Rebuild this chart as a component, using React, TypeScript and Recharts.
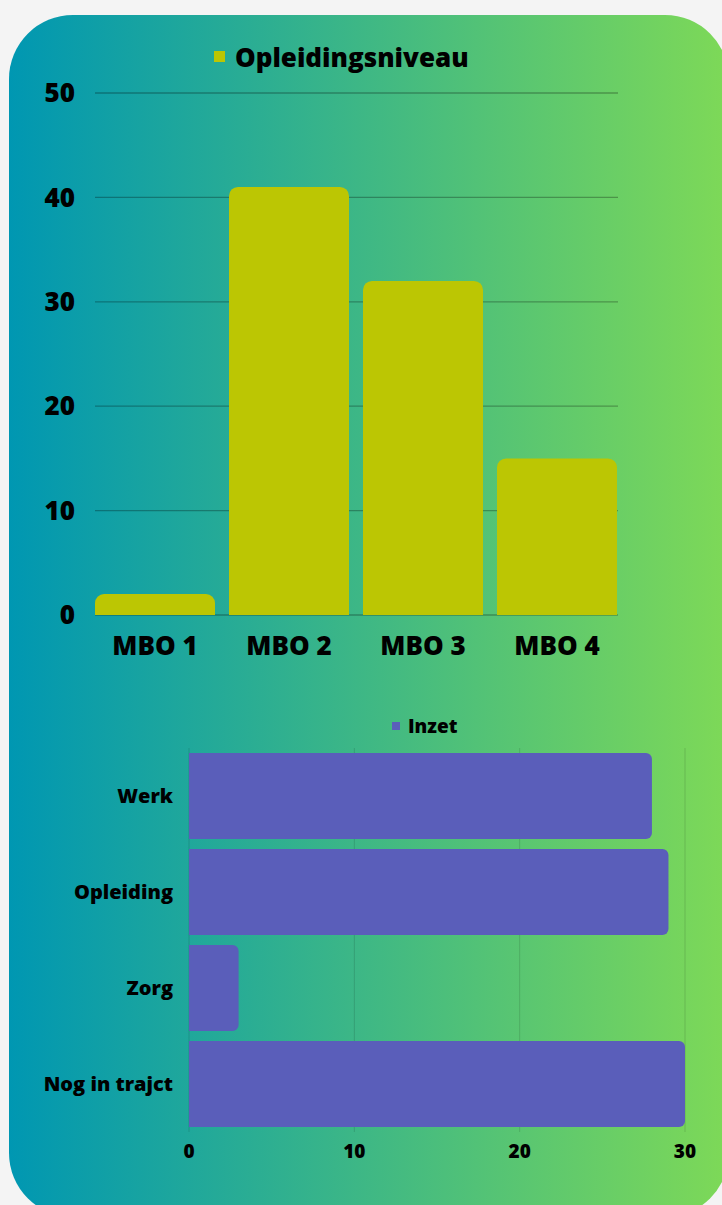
import React from "react";
import { BarChart, Bar, XAxis, YAxis, CartesianGrid } from "recharts";

const levelCategories = ["MBO 1", "MBO 2", "MBO 3", "MBO 4"];
const levelValues = [2, 41, 32, 15];
const levelTicks = [0, 10, 20, 30, 40, 50];

const inzetCategories = ["Werk", "Opleiding", "Zorg", "Nog in trajct"];
const inzetValues = [28, 29, 3, 30];
const inzetTicks = [0, 10, 20, 30];

const levelData = levelCategories.map((c, i) => ({ cat: c, value: levelValues[i] }));
const inzetData = inzetCategories.map((c, i) => ({ cat: c, value: inzetValues[i] }));

const FONT = "'Open Sans', sans-serif";
const LIME = "#bcc603";
const PURPLE = "#5a5eba";

const hLine = (props: any) => (
  <line
    key={`h-${props.y1}-${props.index}`}
    x1={props.x1 + 7}
    x2={props.x2 - 6}
    y1={props.y1}
    y2={props.y2}
    stroke="rgba(0,0,0,0.28)"
    strokeWidth={1.3}
  />
);

export default function App() {
  return (
    <div
      style={{
        position: "absolute",
        left: 0,
        top: 0,
        width: 722,
        height: 1205,
        background: "#f4f4f4",
        overflow: "hidden",
        fontFamily: FONT,
      }}
    >
      <div
        style={{
          position: "absolute",
          left: 9,
          top: 15,
          width: 720,
          height: 1202,
          borderRadius: 64,
          background: "linear-gradient(to right, #0097b2, #7ed957)",
        }}
      />
      <svg
        width={722}
        height={760}
        style={{ position: "absolute", left: 0, top: 0 }}
      >
        <rect x={214} y={51} width={11} height={11} fill={LIME} />
        <text x={235} y={67} fontFamily={FONT} fontWeight={800} fontSize={26} fill="#000">
          Opleidingsniveau
        </text>
        <rect x={392} y={722} width={8} height={8} fill={PURPLE} />
        <text x={408} y={733} fontFamily={FONT} fontWeight={800} fontSize={19} fill="#000">
          Inzet
        </text>
      </svg>
      <div style={{ position: "absolute", left: 0, top: 0 }}>
        <BarChart
          width={722}
          height={690}
          data={levelData}
          margin={{ top: 93, right: 98, left: 28, bottom: 35 }}
          barCategoryGap={7}
        >
          <CartesianGrid vertical={false} horizontal={hLine} />
          <XAxis
            dataKey="cat"
            interval={0}
            height={40}
            axisLine={false}
            tickLine={false}
            tickSize={0}
            tickMargin={22}
            tick={{ fill: "#000", fontSize: 26, fontWeight: 800, fontFamily: FONT }}
          />
          <YAxis
            type="number"
            domain={[0, 50]}
            ticks={levelTicks}
            width={60}
            axisLine={false}
            tickLine={false}
            tickSize={0}
            tickMargin={13}
            tick={{ fill: "#000", fontSize: 26, fontWeight: 800, fontFamily: FONT }}
          />
          <Bar dataKey="value" fill={LIME} radius={[9, 9, 0, 0]} isAnimationActive={false} />
        </BarChart>
      </div>
      <div style={{ position: "absolute", left: 0, top: 700 }}>
        <BarChart
          width={722}
          height={480}
          data={inzetData}
          layout="vertical"
          margin={{ top: 48, right: 37, left: 0, bottom: 18 }}
          barCategoryGap={5}
        >
          <CartesianGrid horizontal={false} stroke="rgba(0,0,0,0.13)" />
          <XAxis
            type="number"
            domain={[0, 30]}
            ticks={inzetTicks}
            height={30}
            axisLine={false}
            tickLine={false}
            tickSize={0}
            tickMargin={13}
            tick={{ fill: "#000", fontSize: 19, fontWeight: 800, fontFamily: FONT }}
          />
          <YAxis
            type="category"
            dataKey="cat"
            width={189}
            interval={0}
            axisLine={false}
            tickLine={false}
            tickSize={0}
            tickMargin={16}
            tick={{ fill: "#000", fontSize: 20, fontWeight: 800, fontFamily: FONT }}
          />
          <Bar dataKey="value" fill={PURPLE} radius={[0, 6, 6, 0]} isAnimationActive={false} />
        </BarChart>
      </div>
    </div>
  );
}
